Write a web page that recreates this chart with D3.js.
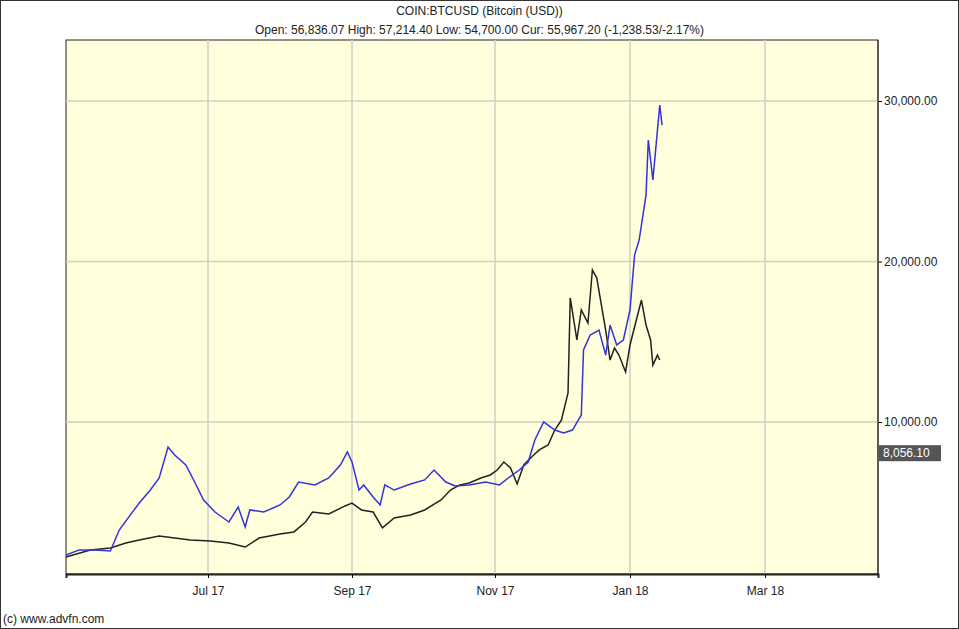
<!DOCTYPE html>
<html>
<head>
<meta charset="UTF-8">
<script src="https://cdn.jsdelivr.net/npm/d3@7/dist/d3.min.js"></script>
<style>
  body { margin: 0; background: #fff; }
  svg text { font-family: "Liberation Sans", Arial, sans-serif; fill: #222; }
</style>
</head>
<body>
<div id="chart"></div>
<script>
// black: price
var blackDates = ["2017-04-28","2017-05-09","2017-05-18","2017-05-25","2017-05-31","2017-06-09","2017-06-16","2017-06-23","2017-07-02","2017-07-10","2017-07-17","2017-07-23","2017-08-01","2017-08-07","2017-08-12","2017-08-15","2017-08-22","2017-08-29","2017-09-01","2017-09-05","2017-09-10","2017-09-14","2017-09-19","2017-09-26","2017-10-02","2017-10-09","2017-10-13","2017-10-17","2017-10-21","2017-10-26","2017-10-30","2017-11-02","2017-11-05","2017-11-08","2017-11-11","2017-11-14","2017-11-18","2017-11-21","2017-11-25","2017-11-28","2017-12-01","2017-12-04","2017-12-05","2017-12-08","2017-12-10","2017-12-13","2017-12-15","2017-12-17","2017-12-21","2017-12-23","2017-12-25","2017-12-27","2017-12-30","2018-01-01","2018-01-04","2018-01-06","2018-01-08","2018-01-10","2018-01-11","2018-01-13","2018-01-14"];
var blackValues = [1590,2030,2150,2460,2650,2900,2770,2650,2590,2460,2210,2770,3020,3150,3770,4390,4270,4770,4950,4520,4390,3400,4020,4210,4520,5140,5760,6080,6200,6510,6700,7010,7510,7130,6140,7320,7880,8260,8570,9500,10120,11810,17730,15110,16980,16170,19470,18970,15730,13860,14610,14170,13120,14800,16480,17600,16040,15110,13550,14170,13860];
// blue: comparison series
var blueDates = ["2017-04-28","2017-05-04","2017-05-11","2017-05-18","2017-05-22","2017-05-27","2017-05-31","2017-06-05","2017-06-09","2017-06-13","2017-06-16","2017-06-21","2017-06-25","2017-06-29","2017-07-04","2017-07-10","2017-07-14","2017-07-17","2017-07-19","2017-07-25","2017-08-01","2017-08-05","2017-08-09","2017-08-16","2017-08-22","2017-08-27","2017-08-30","2017-09-01","2017-09-04","2017-09-06","2017-09-10","2017-09-13","2017-09-15","2017-09-19","2017-09-26","2017-10-02","2017-10-06","2017-10-11","2017-10-15","2017-10-21","2017-10-28","2017-11-03","2017-11-07","2017-11-12","2017-11-16","2017-11-19","2017-11-23","2017-11-28","2017-12-02","2017-12-06","2017-12-10","2017-12-11","2017-12-14","2017-12-18","2017-12-21","2017-12-23","2017-12-26","2017-12-29","2018-01-01","2018-01-03","2018-01-05","2018-01-08","2018-01-09","2018-01-11","2018-01-12","2018-01-14","2018-01-15"];
var blueValues = [1710,2030,2030,1960,3270,4210,4950,5760,6510,8440,7940,7320,6260,5140,4390,3770,4700,3460,4520,4390,4830,5330,6260,6080,6510,7320,8130,7510,5760,6080,5330,4830,6080,5760,6140,6390,7010,6260,6010,6080,6260,6080,6510,7010,7510,8880,10000,9500,9310,9500,10440,14490,15420,15730,14170,16040,14800,15110,16980,20400,21340,24140,27570,25080,26630,29750,28500];
var xTickDates = ["2017-07-01","2017-09-01","2017-11-01","2018-01-01","2018-03-01"];
var xTickLabels = ["Jul 17","Sep 17","Nov 17","Jan 18","Mar 18"];
var yTicks = [10000, 20000, 30000];
var lastValue = 8056.10;

var W = 959, H = 629;
var pLeft = 66, pRight = 878, pTop = 40, pBottom = 574;
var parse = d3.timeParse("%Y-%m-%d");

// the source chart's month spacing is not quite even, so use a piecewise scale
var x = d3.scaleTime()
  .domain([parse("2017-04-28"), parse("2017-07-01"), parse("2017-09-01"), parse("2017-11-01"), parse("2018-01-01"), parse("2018-03-01"), parse("2018-04-30")])
  .range([pLeft, 208, 352, 495, 630, 765, pRight]);
var y = d3.scaleLinear().domain([10000, 30000]).range([422, 101]);

var svg = d3.select("#chart").append("svg").attr("width", W).attr("height", H);
svg.append("rect").attr("x", 0.5).attr("y", 0.5).attr("width", W - 1).attr("height", H - 1)
  .attr("fill", "#fff").attr("stroke", "#333");
svg.append("rect").attr("x", pLeft).attr("y", pTop).attr("width", pRight - pLeft).attr("height", pBottom - pTop)
  .attr("fill", "#ffffdc").attr("stroke", "#222");

svg.append("text").attr("x", W / 2).attr("y", 15).attr("text-anchor", "middle").attr("font-size", 12)
  .text("COIN:BTCUSD (Bitcoin (USD))");
svg.append("text").attr("x", W / 2).attr("y", 34).attr("text-anchor", "middle").attr("font-size", 12)
  .text("Open: 56,836.07 High: 57,214.40 Low: 54,700.00 Cur: 55,967.20 (-1,238.53/-2.17%)");

// grid
svg.append("g").selectAll("line").data(yTicks).join("line")
  .attr("x1", pLeft).attr("x2", pRight).attr("y1", d => y(d)).attr("y2", d => y(d))
  .attr("stroke", "#cfcfc4").attr("stroke-width", 1.5);
svg.append("g").selectAll("line").data(xTickDates).join("line")
  .attr("x1", d => x(parse(d))).attr("x2", d => x(parse(d))).attr("y1", pTop).attr("y2", pBottom)
  .attr("stroke", "#cfcfc4").attr("stroke-width", 1.5);

// axes
svg.append("g").attr("transform", "translate(0," + pBottom + ")")
  .call(d3.axisBottom(x).tickValues(xTickDates.map(parse)).tickSize(4)
    .tickFormat((d, i) => xTickLabels[i]))
  .call(g => g.select(".domain").attr("stroke", "#222").attr("stroke-width", 2))
  .call(g => g.selectAll("text").attr("font-size", 12).attr("dy", "1.2em").attr("fill", "#222"));
svg.append("g").attr("transform", "translate(" + pRight + ",0)")
  .call(d3.axisRight(y).tickValues(yTicks).tickSize(4).tickFormat(d3.format(",.2f")))
  .call(g => g.select(".domain").remove())
  .call(g => g.selectAll("text").attr("font-size", 12).attr("x", 6).attr("fill", "#222"));
svg.append("line").attr("x1", pRight).attr("x2", pRight).attr("y1", pTop).attr("y2", pBottom).attr("stroke", "#222");

var line = d3.line().x(d => x(parse(d[0]))).y(d => y(d[1]));
svg.append("path").datum(d3.zip(blackDates, blackValues)).attr("d", line)
  .attr("fill", "none").attr("stroke", "#222").attr("stroke-width", 1.5);
svg.append("path").datum(d3.zip(blueDates, blueValues)).attr("d", line)
  .attr("fill", "none").attr("stroke", "#3333dd").attr("stroke-width", 1.5);

// current value box
var ly = y(lastValue);
svg.append("rect").attr("x", pRight + 1).attr("y", ly - 8).attr("width", 62).attr("height", 16).attr("fill", "#555");
svg.append("text").attr("x", pRight + 5).attr("y", ly + 4).attr("font-size", 12)
  .style("fill", "#fff").text(d3.format(",.2f")(lastValue));

svg.append("text").attr("x", 3).attr("y", 623).attr("font-size", 12).text("(c) www.advfn.com");
</script>
</body>
</html>
